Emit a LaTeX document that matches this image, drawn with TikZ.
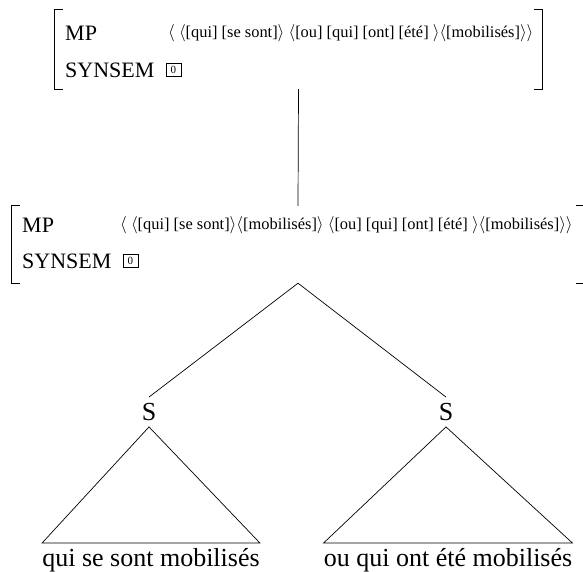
\documentclass[tikz,border=0pt]{standalone}
\usepackage{fontspec}
\setmainfont{Liberation Serif}
\usepackage{tikz}
\usetikzlibrary{positioning,calc}

\begin{document}
\begin{tikzpicture}[
    x=1pt, y=1pt,
    avm/.style={rectangle, inner sep=0pt},
    feat/.style={anchor=west, inner sep=0pt, font=\fontsize{22}{24}\selectfont},
    val/.style={anchor=west, inner sep=0pt, font=\fontsize{16.4}{18}\selectfont},
    tag/.style={rectangle, draw, line width=0.6pt, inner sep=0pt, minimum width=15pt, minimum height=13pt, font=\fontsize{11}{11}\selectfont},
    cat/.style={inner xsep=2pt, inner ysep=6pt, font=\fontsize{26}{28}\selectfont},
    leaf/.style={anchor=north, inner xsep=0pt, inner ysep=5pt, font=\fontsize{26}{28}\selectfont},
    brack/.style={draw, line width=1.3pt},
    branch/.style={draw, line width=0.7pt}
]
\useasboundingbox (0,0) rectangle (583,572);

% upper feature structure
\node [avm, minimum width=487pt, minimum height=79pt] (avmtop) at (298.5,522.5) {};
\node [feat] (mptop) at (65,539) {MP};
\node [feat] (syntop) at (65,502) {SYNSEM};
\node [tag, right=11pt of syntop] (tagtop) {0};
\node [val] (valtop) at (168,539) {$\langle$ $\langle$[qui] [se sont]$\rangle$ $\langle$[ou] [qui] [ont] [été] $\rangle$$\langle$[mobilisés]$\rangle$$\rangle$};
\draw [brack] ([xshift=8pt]avmtop.north west) -- (avmtop.north west) -- (avmtop.south west) -- ([xshift=8pt]avmtop.south west);
\draw [brack] ([xshift=-8pt]avmtop.north east) -- (avmtop.north east) -- (avmtop.south east) -- ([xshift=-8pt]avmtop.south east);

% lower feature structure
\node [avm, minimum width=572pt, minimum height=77pt] (avmbot) at (298,327.5) {};
\node [feat] (mpbot) at (22,347) {MP};
\node [feat] (synbot) at (22,311) {SYNSEM};
\node [tag, right=11pt of synbot] (tagbot) {0};
\node [val] (valbot) at (120,347) {$\langle$ $\langle$[qui] [se sont]$\rangle$$\langle$[mobilisés]$\rangle$ $\langle$[ou] [qui] [ont] [été] $\rangle$$\langle$[mobilisés]$\rangle$$\rangle$};
\draw [brack] ([xshift=8pt]avmbot.north west) -- (avmbot.north west) -- (avmbot.south west) -- ([xshift=8pt]avmbot.south west);
\draw [brack] ([xshift=-8pt]avmbot.north east) -- (avmbot.north east) -- (avmbot.south east) -- ([xshift=-8pt]avmbot.south east);

\draw [branch] (avmtop.south) -- (avmbot.north);

% tree
\node [cat] (sleft) at (149,160) {S};
\node [cat] (sright) at (446,160) {S};
\node [leaf] (leafleft) at (151,29) {qui se sont mobilisés};
\node [leaf] (leafright) at (448,29) {ou qui ont été mobilisés};

\draw [branch] (avmbot.south) -- (sleft.north);
\draw [branch] (avmbot.south) -- (sright.north);
\draw [branch] (sleft.south) -- (leafleft.north west) -- (leafleft.north east) -- cycle;
\draw [branch] (sright.south) -- (leafright.north west) -- (leafright.north east) -- cycle;

\end{tikzpicture}
\end{document}
